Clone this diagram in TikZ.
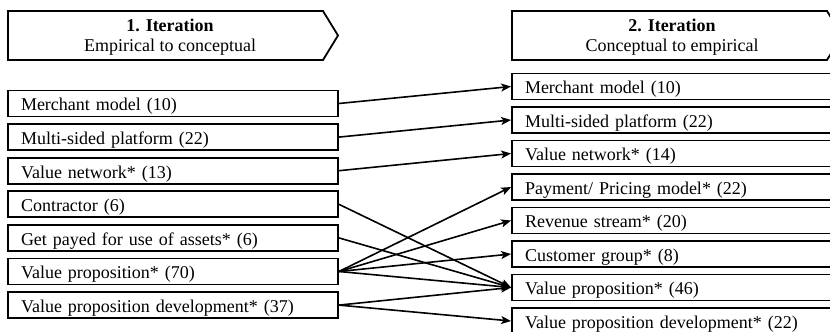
\documentclass[tikz,border=0pt]{standalone}
\usepackage{fontspec}
\setmainfont{Liberation Serif}
\usetikzlibrary{positioning,arrows.meta}

\begin{document}
\begin{tikzpicture}[x=1pt, y=1pt,
    every node/.style={font=\fontsize{18}{20}\selectfont},
    itembox/.style={draw, rectangle, line width=1.8pt, text width=304pt, inner xsep=13pt, inner ysep=0pt,
        minimum height=26pt, text height=18pt, text depth=3pt, align=left},
    headbox/.style={line width=1.8pt},
    link/.style={-{Stealth[length=10pt, width=8pt, inset=2.5pt]}, line width=1.6pt}]
    \useasboundingbox (0,0) rectangle (830,332);
    \clip (0,0) rectangle (830,332);

    % headers
    \draw[headbox] (8,321) -- (323,321) -- (338,296.5) -- (323,272) -- (8,272) -- cycle;
    \node[align=center] (iterA) at (170,294.5) {\textbf{1. Iteration}\\ Empirical to conceptual};
    \draw[headbox] (512,321) -- (827,321) -- (842,296.5) -- (827,272) -- (512,272) -- cycle;
    \node[align=center] (iterB) at (672,294.5) {\textbf{2. Iteration}\\ Conceptual to empirical};

    % first iteration
    \begin{scope}[node distance=33.6pt]
    \node[itembox] (merchL) at (173,228.5) {Merchant model (10)};
    \node[itembox, below of=merchL] (platformL) {Multi-sided platform (22)};
    \node[itembox, below of=platformL] (networkL) {Value network* (13)};
    \node[itembox, below of=networkL] (contractor) {Contractor (6)};
    \node[itembox, below of=contractor] (assets) {Get payed for use of assets* (6)};
    \node[itembox, below of=assets] (propL) {Value proposition* (70)};
    \node[itembox, below of=propL] (devL) {Value proposition development* (37)};
    \end{scope}

    % second iteration
    \begin{scope}[node distance=33.5pt]
    \node[itembox] (merchR) at (677,245.5) {Merchant model (10)};
    \node[itembox, below of=merchR] (platformR) {Multi-sided platform (22)};
    \node[itembox, below of=platformR] (networkR) {Value network* (14)};
    \node[itembox, below of=networkR] (pricing) {Payment/ Pricing model* (22)};
    \node[itembox, below of=pricing] (revenue) {Revenue stream* (20)};
    \node[itembox, below of=revenue] (customer) {Customer group* (8)};
    \node[itembox, below of=customer] (propR) {Value proposition* (46)};
    \node[itembox, below of=propR] (devR) {Value proposition development* (22)};
    \end{scope}

    \draw[link] (merchL.east) -- (merchR.west);
    \draw[link] (platformL.east) -- (platformR.west);
    \draw[link] (networkL.east) -- (networkR.west);
    \draw[link] (contractor.east) -- (propR.west);
    \draw[link] (assets.east) -- (propR.west);
    \draw[link] (propL.east) -- (pricing.west);
    \draw[link] (propL.east) -- (revenue.west);
    \draw[link] (propL.east) -- (customer.west);
    \draw[link] (propL.east) -- (propR.west);
    \draw[link] (devL.east) -- (propR.west);
    \draw[link] (devL.east) -- (devR.west);
\end{tikzpicture}
\end{document}
